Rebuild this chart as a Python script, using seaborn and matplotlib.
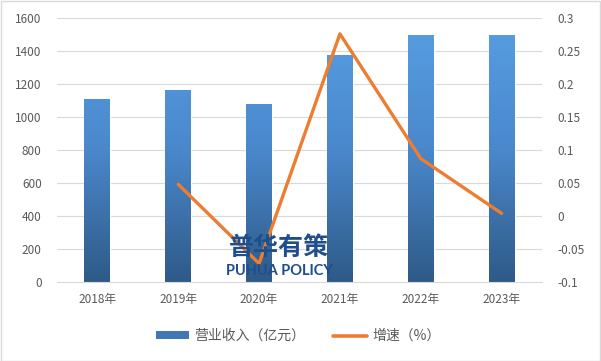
import numpy as np
import pandas as pd
import seaborn as sns
import matplotlib
matplotlib.use("Agg")
from matplotlib import pyplot as plt
from matplotlib.colors import LinearSegmentedColormap
from matplotlib.patches import Patch
from matplotlib.lines import Line2D

# data
years = ["2018年", "2019年", "2020年", "2021年", "2022年", "2023年"]
revenue = [1110, 1165, 1080, 1377, 1498, 1499]
growth = [np.nan, 0.048, -0.072, 0.276, 0.087, 0.004]

bar_label = "营业收入（亿元）"
line_label = "增速（%）"

sns.set_theme(style="white")
plt.rcParams["font.family"] = ["Noto Sans CJK SC", "DejaVu Sans"]

df = pd.DataFrame({"year": years, "revenue": revenue, "growth": growth})
df["pos"] = np.arange(len(years))

fig = plt.figure(figsize=(6.01, 3.61), dpi=100)
ax = fig.add_axes([57 / 601, 1 - 282 / 361, (542 - 57) / 601, (282 - 18) / 361])

sns.barplot(data=df, x="year", y="revenue", ax=ax, color="#4a86c8", width=0.32,
            saturation=1, zorder=2)

# gradient fill on each bar
cmap = LinearSegmentedColormap.from_list("blu", ["#2e5a87", "#4a88cc", "#579fe2"])
grad = np.linspace(0, 1, 256).reshape(-1, 1)
for p in ax.patches:
    x0, y0 = p.get_x(), p.get_y()
    w, h = p.get_width(), p.get_height()
    im = ax.imshow(grad, cmap=cmap, origin="lower", aspect="auto",
                   extent=[x0, x0 + w, 0, 1600], zorder=2.5)
    im.set_clip_path(p)

ax.set_xlim(-0.5, len(years) - 0.5)
ax.set_ylim(0, 1600)
ax.set_yticks(range(0, 1601, 200))
ax.yaxis.grid(True, color="#d9d9d9", linewidth=0.8)
ax.set_axisbelow(True)
for s in ["top", "left", "right"]:
    ax.spines[s].set_visible(False)
ax.spines["bottom"].set_color("#d9d9d9")
ax.spines["bottom"].set_linewidth(0.8)
ax.set_xlabel("")
ax.set_ylabel("")
ax.tick_params(axis="both", length=0, labelsize=8.5, labelcolor="#595959")
ax.tick_params(axis="y", pad=11)
ax.tick_params(axis="x", pad=8)

ax2 = ax.twinx()
sns.lineplot(data=df, x="pos", y="growth", ax=ax2, color="#ed7d31", linewidth=2.4,
             zorder=3)
ax2.set_ylim(-0.1, 0.3)
ax2.set_yticks([-0.1, -0.05, 0, 0.05, 0.1, 0.15, 0.2, 0.25, 0.3])
ax2.set_yticklabels(["-0.1", "-0.05", "0", "0.05", "0.1", "0.15", "0.2", "0.25", "0.3"])
ax2.set_xlim(-0.5, len(years) - 0.5)
for s in ["top", "left", "right", "bottom"]:
    ax2.spines[s].set_visible(False)
ax2.set_ylabel("")
ax2.tick_params(axis="y", length=0, labelsize=8.5, labelcolor="#595959", pad=11)

# watermark
fig.text(279 / 601, 1 - 248 / 361, "普华有策", ha="center", va="center",
         fontsize=18, fontweight="bold", color="#1f4e8c", zorder=10)
fig.text(279 / 601, 1 - 271 / 361, "PUHUA POLICY", ha="center", va="center",
         fontsize=10.5, fontweight="bold", color="#1f4e8c", zorder=10,
         family=["Lato", "DejaVu Sans"])

handles = [Patch(facecolor="#3f78b5", edgecolor="none", label=bar_label),
           Line2D([0], [0], color="#ed7d31", linewidth=2.6, label=line_label)]
fig.legend(handles=handles, loc="center", bbox_to_anchor=(298 / 601, 1 - 336 / 361),
           ncol=2, frameon=False, fontsize=10, handlelength=2.4, handleheight=0.5,
           columnspacing=2.0, handletextpad=0.4, labelcolor="#595959")

# outer border
fig.patches.append(plt.Rectangle((0.001, 0.001), 0.997, 0.997, transform=fig.transFigure,
                                 fill=False, edgecolor="#d9d9d9", linewidth=1))

fig.savefig("out.png", dpi=100)
